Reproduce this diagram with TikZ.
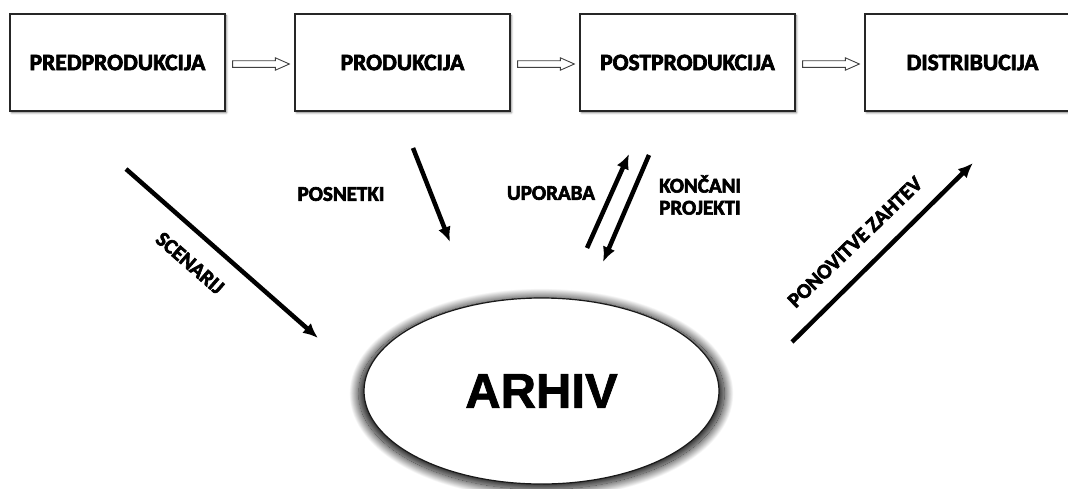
\documentclass[tikz,border=0pt]{standalone}
\usepackage{fontspec}
\usetikzlibrary{calc,arrows.meta,shapes.geometric,shadows.blur}
\newfontfamily\labelfont{Carlito}[UprightFont={* Bold},FakeBold=3]
\newfontfamily\archfont{Liberation Sans}[UprightFont={* Bold},FakeBold=1.5]

\tikzset{
  stage/.style={draw=black!85, line width=1.3pt, fill=white,
    minimum width=215pt, minimum height=97pt, inner sep=0pt,
    font=\labelfont\fontsize{23.5}{26}\selectfont,
    blur shadow={shadow xshift=1.5pt, shadow yshift=-1.8pt,
      shadow blur radius=2pt, shadow opacity=50}},
  hollow/.style={draw=black!75, line width=0.9pt, fill=white, line join=miter},
  flow/.style={line width=4.5pt, -{Latex[length=15pt,width=13pt]}},
  lbl/.style={font=\labelfont\fontsize{21}{22}\selectfont, inner sep=0pt},
  archive/.style={ellipse, draw=black!90, line width=1.2pt, fill=white,
    minimum width=355pt, minimum height=186pt, inner sep=0pt,
    font=\archfont\fontsize{49}{50}\selectfont,
    blur shadow={shadow xshift=0pt, shadow yshift=-2.5pt, shadow scale=1.03,
      shadow blur radius=9pt, shadow blur steps=50, shadow opacity=100}}
}

\begin{document}
\begin{tikzpicture}[x=1pt,y=-1pt]
  \useasboundingbox (0,0) rectangle (1068,488);

  % production stages
  \node[stage] (pre)  at (117.5,62.5) {PREDPRODUKCIJA};
  \node[stage] (pro)  at (402.5,62.5) {PRODUKCIJA};
  \node[stage] (post) at (687.5,62.5) {POSTPRODUKCIJA};
  \node[stage] (dis)  at (972.5,62.5) {DISTRIBUCIJA};

  % hollow block arrows between the stages
  \foreach \a/\b in {pre/pro, pro/post, post/dis}{
    \draw[hollow]
      ($(\a.east)+(7,-1.8)$) -- ($(\b.west)+(-19,-1.8)$) --
      ($(\b.west)+(-19,-4.7)$) -- ($(\b.west)+(-5,1.5)$) --
      ($(\b.west)+(-19,7.7)$) -- ($(\b.west)+(-19,4.8)$) --
      ($(\a.east)+(7,4.8)$) -- cycle;
  }

  % the archive
  \node[archive] (arh) at (541.5,391) {ARHIV};

  % ends of the flows to and from the archive
  \coordinate (scenA) at (126,169);  \coordinate (scenB) at (318,338);
  \coordinate (posnA) at (413,148);  \coordinate (posnB) at (450,242);
  \coordinate (uporA) at (587,248);  \coordinate (uporB) at (629,154);
  \coordinate (koncA) at (649,155);  \coordinate (koncB) at (603,262);
  \coordinate (ponA)  at (792,342);  \coordinate (ponB)  at (973,163);

  \draw[flow] (scenA) -- (scenB);
  \draw[flow] (posnA) -- (posnB);
  \draw[flow] (uporA) -- (uporB);
  \draw[flow] (koncA) -- (koncB);
  \draw[flow] (ponA) -- (ponB);

  % flow labels
  \node[lbl, rotate=-41] (scen) at (190,263) {SCENARIJ};
  \node[lbl] (posn) at (341,194) {POSNETKI};
  \node[lbl] (upor) at (551,193) {UPORABA};
  \node[lbl, align=left, anchor=west] (konc) at (659,195) {KONČANI\\PROJEKTI};
  \node[lbl, rotate=44] (ponov) at (855,242) {PONOVITVE ZAHTEV};
\end{tikzpicture}
\end{document}
